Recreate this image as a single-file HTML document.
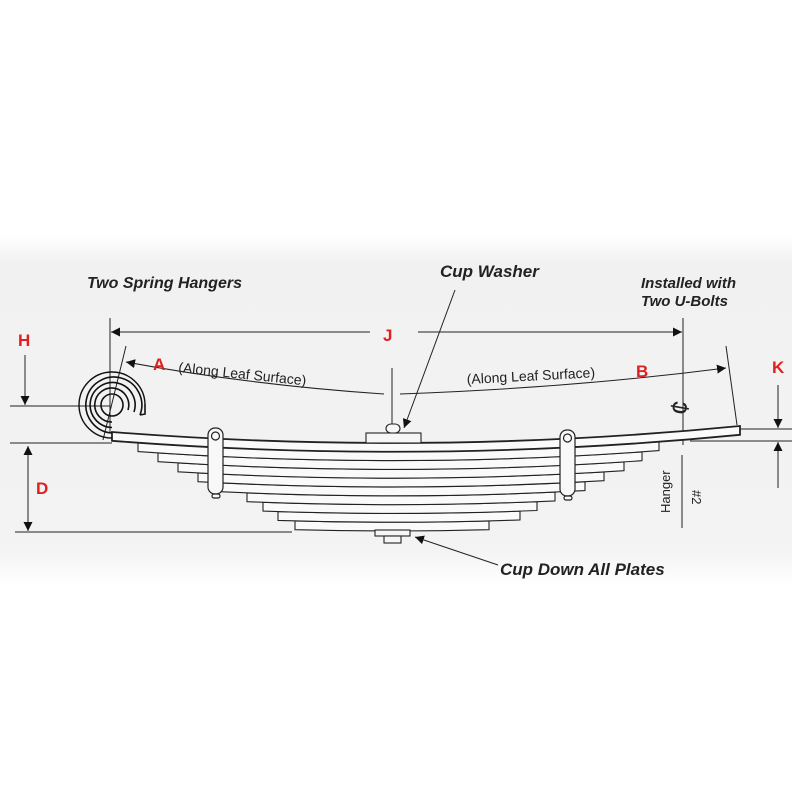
<!DOCTYPE html>
<html><head><meta charset="utf-8"><style>
html,body{margin:0;padding:0;background:#fff}
svg{display:block}
text{font-family:"Liberation Sans",sans-serif}
</style></head><body>
<svg width="792" height="792" viewBox="0 0 792 792" xmlns="http://www.w3.org/2000/svg">
<defs>
<linearGradient id="bg" x1="0" y1="0" x2="0" y2="1">
<stop offset="0" stop-color="#ffffff"/>
<stop offset="0.08" stop-color="#f1f1f1"/>
<stop offset="0.9" stop-color="#f3f3f3"/>
<stop offset="1" stop-color="#ffffff"/>
</linearGradient>
<marker id="ar" viewBox="0 0 10 10" refX="10" refY="5" markerWidth="9" markerHeight="9" orient="auto-start-reverse" markerUnits="userSpaceOnUse">
<path d="M0,0 L10,5 L0,10 z" fill="#111"/>
</marker>
</defs>
<rect width="792" height="792" fill="#fff"/>
<rect x="0" y="235" width="792" height="350" fill="url(#bg)"/>

<g stroke="#222" stroke-width="1" fill="none">
<line x1="110" y1="318" x2="110" y2="432"/>
<line x1="683" y1="318" x2="683" y2="445"/>
<line x1="370" y1="332" x2="111" y2="332" marker-end="url(#ar)"/>
<line x1="418" y1="332" x2="682" y2="332" marker-end="url(#ar)"/>
<line x1="126" y1="346" x2="103" y2="440"/>
<line x1="726" y1="346" x2="737" y2="425"/>
<path d="M384,394 Q250,385 126,362" marker-end="url(#ar)"/>
<path d="M400,394 Q570,388 726,368" marker-end="url(#ar)"/>
<line x1="392" y1="368" x2="392" y2="428"/>
<line x1="10" y1="406" x2="110" y2="406"/>
<line x1="25" y1="355" x2="25" y2="405" marker-end="url(#ar)"/>
<line x1="10" y1="443" x2="112" y2="443"/>
<line x1="15" y1="532" x2="292" y2="532"/>
<line x1="28" y1="446" x2="28" y2="531" marker-end="url(#ar)" marker-start="url(#ar)"/>
<line x1="740" y1="429" x2="792" y2="429"/>
<line x1="690" y1="441" x2="792" y2="441"/>
<line x1="778" y1="385" x2="778" y2="428" marker-end="url(#ar)"/>
<line x1="778" y1="488" x2="778" y2="442" marker-end="url(#ar)"/>
<line x1="682" y1="455" x2="682" y2="528"/>
<line x1="455" y1="290" x2="404" y2="428" marker-end="url(#ar)"/>
<line x1="498" y1="565" x2="415" y2="537" marker-end="url(#ar)"/>
</g>

<g stroke="#222" stroke-width="1.1" fill="#fafafa">
<path d="M295,520.9 Q392,523.5 489,520.9 L489,529.7 Q392,532.3 295,529.7 Z"/>
<path d="M278,511.6 Q399,515.5 520,511.1 L520,519.9 Q399,524.3 278,520.4 Z"/>
<path d="M263,502.3 Q400,507.2 537,501.7 L537,510.5 Q400,516 263,511.1 Z"/>
<path d="M247,492.9 Q401,499.2 555,492.1 L555,500.9 Q401,508 247,501.7 Z"/>
<path d="M220,482.9 Q402.5,491.7 585,481.8 L585,490.6 Q402.5,500.5 220,491.7 Z"/>
<path d="M198,472.9 Q401,483.9 604,471.9 L604,480.7 Q401,492.7 198,481.7 Z"/>
<path d="M178,463 Q401,476.4 624,461.9 L624,470.7 Q401,485.2 178,471.8 Z"/>
<path d="M158,452.9 Q400,468.8 642,451.9 L642,460.7 Q400,477.6 158,461.7 Z"/>
<path d="M138,442.8 Q398.5,461.3 659,441.8 L659,450.6 Q398.5,470.1 138,451.6 Z"/>
<path d="M112,432 Q426,456.6 740,426 L740,434.8 Q426,465.4 112,440.8 Z" stroke-width="1.8"/>
</g>
<g stroke="#111" fill="none" stroke-width="1.6">
<circle cx="112" cy="405" r="11"/>
<path d="M128,410 A17,17 0 1 0 112,422"/>
<path d="M134,412 A22.5,22.5 0 1 0 112,427.5"/>
<path d="M140,415 A28,28 0 1 0 112,433"/>
<path d="M140,415 L145,414 L145,404"/>
<path d="M145,404 A33,33 0 1 0 112,438" stroke-width="1.4"/>
</g>
<g stroke="#222" stroke-width="1.1" fill="#f6f6f6">
<rect x="366" y="433" width="55" height="10"/>
<rect x="386" y="424" width="14" height="9" rx="5"/>
<rect x="375" y="530" width="35" height="6"/>
<rect x="384" y="536" width="17" height="7"/>
</g>
<g stroke="#222" stroke-width="1.2" fill="#f8f8f8">
<rect x="208" y="428" width="15" height="66" rx="7"/>
<circle cx="215.5" cy="436" r="4"/>
<rect x="212" y="494" width="8" height="4" rx="2"/>
<rect x="560" y="430" width="15" height="66" rx="7"/>
<circle cx="567.5" cy="438" r="4"/>
<rect x="564" y="496" width="8" height="4" rx="2"/>
</g>

<g font-style="italic" font-weight="bold" fill="#222" font-size="16">
<text x="87" y="288">Two Spring Hangers</text>
<text x="440" y="277" font-size="17">Cup Washer</text>
<text x="641" y="288" font-size="15">Installed with</text>
<text x="641" y="306" font-size="15">Two U-Bolts</text>
<text x="500" y="575" font-size="17">Cup Down All Plates</text>
</g>
<g fill="#e02020" font-weight="bold" font-size="17">
<text x="18" y="346">H</text>
<text x="383" y="341">J</text>
<text x="153" y="370">A</text>
<text x="636" y="377">B</text>
<text x="772" y="373">K</text>
<text x="36" y="494">D</text>
</g>
<g fill="#222" font-size="14">
<text x="178" y="372" transform="rotate(6 178 372)">(Along Leaf Surface)</text>
<text x="467" y="384" transform="rotate(-3 467 384)">(Along Leaf Surface)</text>
<text x="670" y="513" transform="rotate(-90 670 513)" font-size="13">Hanger</text>
<text x="692" y="490" transform="rotate(90 692 490)" font-size="13">#2</text>
<text x="670" y="414" font-size="26" transform="rotate(-80 680 405)">¢</text>
</g>
</svg>
</body></html>
